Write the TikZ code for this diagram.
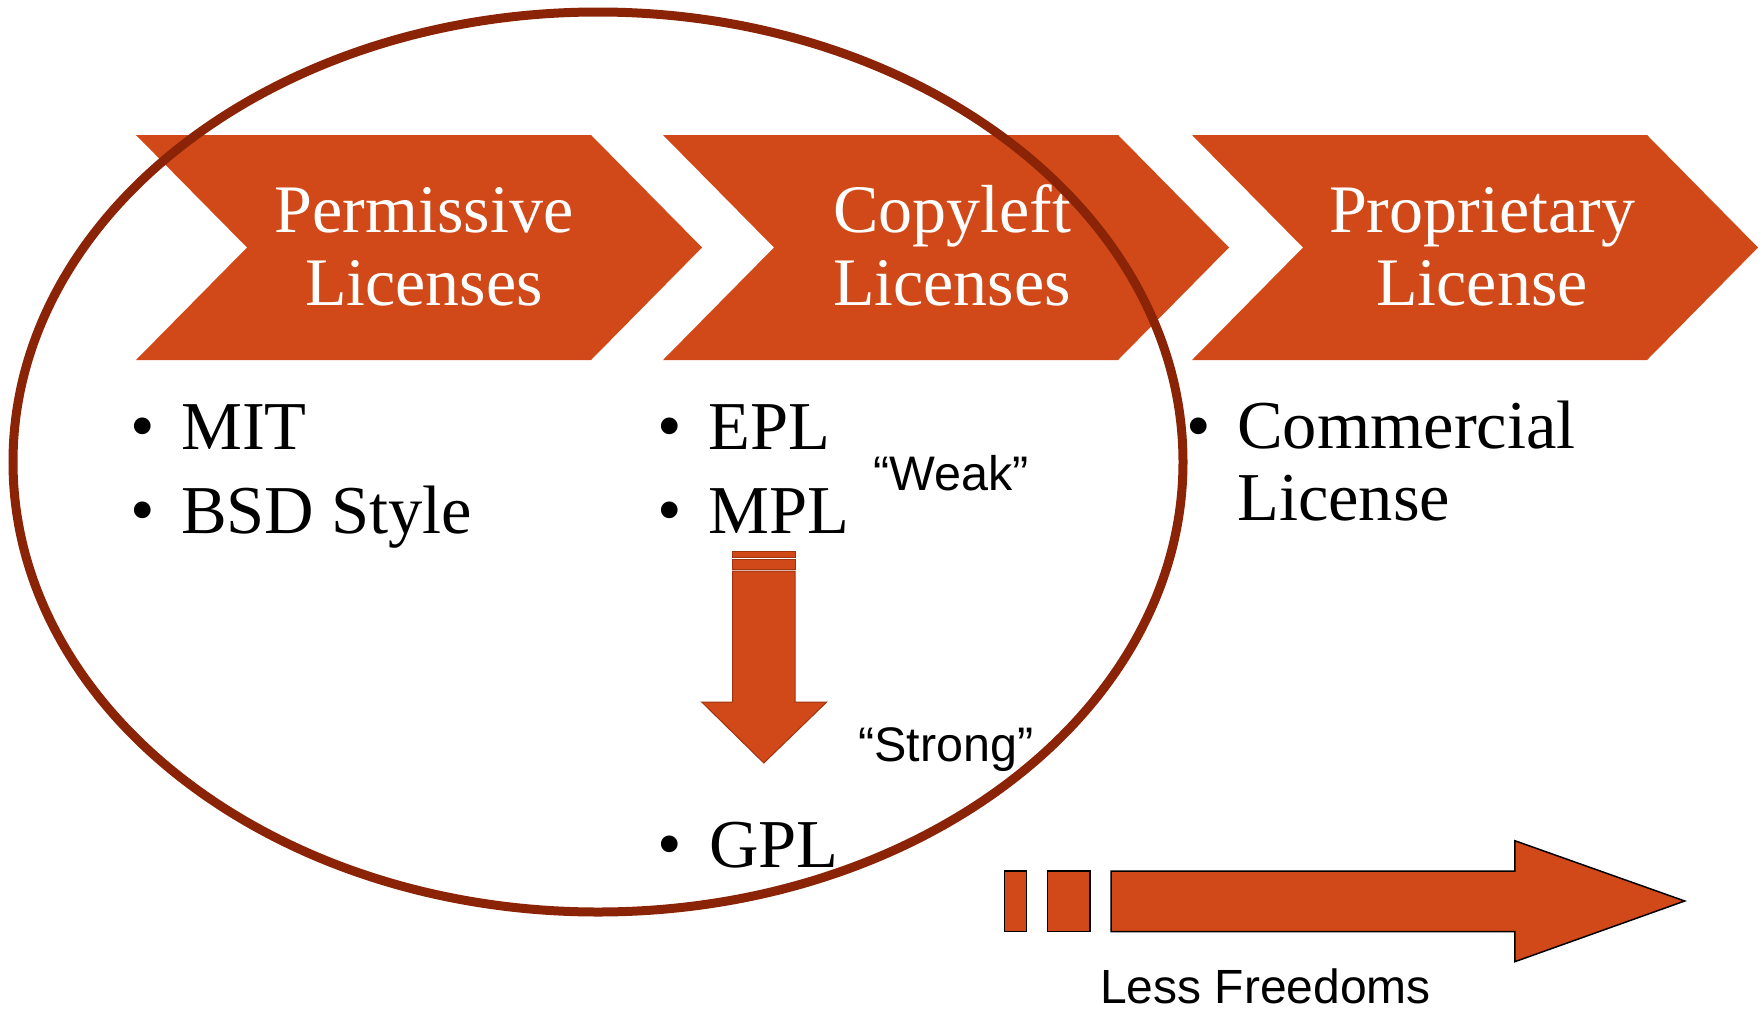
\documentclass[tikz,border=0pt]{standalone}
\usepackage{fontspec}
\setmainfont{Liberation Serif}
\newfontfamily\arialfont{Liberation Sans}
\definecolor{chev}{RGB}{209,73,24}
\definecolor{chevdark}{RGB}{160,52,14}
\definecolor{ellcol}{RGB}{139,35,7}
\tikzset{
  chevtext/.style={font=\fontsize{68}{73}\selectfont, text=white, align=center, anchor=base, inner sep=0pt},
  itemtext/.style={font=\fontsize{68.5}{71.5}\selectfont, anchor=base west, inner sep=0pt, align=left},
  bul/.style={font=\fontsize{70}{71.5}\selectfont, anchor=base, inner sep=0pt},
  quotetext/.style={font=\arialfont\fontsize{48.5}{58}\selectfont, anchor=base west, inner sep=0pt},
  chevshape/.style={fill=chev},
  downarrow/.style={fill=chev, draw=chevdark, line width=1pt},
  rightarrow/.style={fill=chev, draw=black, line width=1.5pt, line join=miter},
}
\begin{document}
\begin{tikzpicture}[x=1pt,y=-1pt]
\useasboundingbox (0,0) rectangle (1760,1009);
% chevrons
\foreach \L in {136,663,1192}{
  \fill[chevshape] (\L,135) -- ++(455,0) -- ++(111,112.5) -- ++(-111,112.5) -- ++(-455,0) -- ++(111,-112.5) -- cycle;
}
\node[chevtext] (perm) at (424,305) {Permissive\\Licenses};
\node[chevtext] (copy) at (952,305) {Copyleft\\Licenses};
\node[chevtext] (prop) at (1482,305) {Proprietary\\License};
% items
\node[bul] (b1) at (143,449) {•};
\node[itemtext] (mit) at (181,449) {MIT};
\node[bul] (b2) at (143,533) {•};
\node[itemtext] (bsd) at (181,533) {BSD Style};
\node[bul] (b3) at (670,449) {•};
\node[itemtext] (epl) at (708,449) {EPL};
\node[bul] (b4) at (670,533) {•};
\node[itemtext] (mpl) at (708,533) {MPL};
\node[bul] (b5) at (670,867) {•};
\node[itemtext] (gpl) at (709,867) {GPL};
\node[bul] (b6) at (1199,449) {•};
\node[itemtext] (comm) at (1237,520) {Commercial\\License};
\node[quotetext] (weak) at (873,490.5) {“Weak”};
\node[quotetext] (strong) at (858,761.5) {“Strong”};
\node[quotetext, font=\arialfont\fontsize{48}{58}\selectfont, text depth=0pt] (less) at (1100,1003) {Less Freedoms};
% down arrow
\draw[downarrow] (732.7,551.7) rectangle (795,557);
\draw[downarrow] (732.7,559) rectangle (795,569);
\draw[downarrow] (732.7,571) -- (795,571) -- (795,702) -- (826.7,702) -- (763.8,763) -- (701.7,702) -- (732.7,702) -- cycle;
% right arrow
\draw[rightarrow] (1004.6,871) rectangle (1026.5,931.7);
\draw[rightarrow] (1047.5,871) rectangle (1090,931.7);
\draw[rightarrow] (1111,871) -- (1514.8,871) -- (1514.8,840.7) -- (1684.7,901) -- (1514.8,961.7) -- (1514.8,931.7) -- (1111,931.7) -- cycle;
% ellipse
\draw[ellcol, line width=9pt] (598,462) ellipse [x radius=585, y radius=450];
\end{tikzpicture}
\end{document}
